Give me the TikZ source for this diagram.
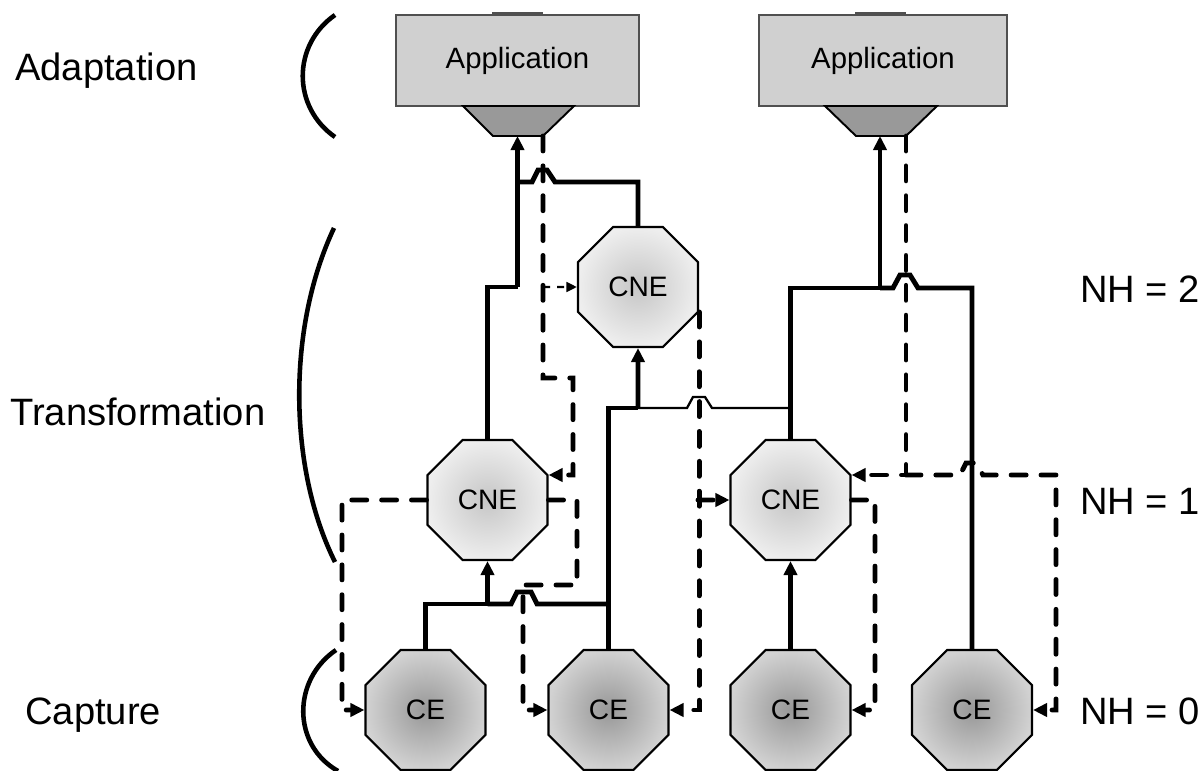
\documentclass[tikz,border=0pt]{standalone}
\usepackage{fontspec}
\setmainfont{Liberation Sans}
\usetikzlibrary{shapes.geometric,arrows.meta,calc}
\definecolor{appfill}{HTML}{D0D0D0}
\definecolor{appline}{HTML}{505050}
\definecolor{trapfill}{HTML}{999999}
\definecolor{ceinner}{HTML}{979797}
\definecolor{ceouter}{HTML}{D2D2D2}
\definecolor{cneinner}{HTML}{C6C6C6}
\definecolor{cneouter}{HTML}{EEEEEE}
\begin{document}
\begin{tikzpicture}[x=0.02cm,y=-0.02cm,
  tip/.tip={Triangle[length=8pt,width=7.5pt]},
  stip/.tip={Triangle[length=6pt,width=5.5pt]},
  conn/.style={line width=2.8pt},
  thinconn/.style={line width=1.3pt},
  dconn/.style={line width=2.8pt,line cap=round,dash pattern=on 8.5pt off 8.5pt},
  tdconn/.style={line width=1.4pt,dash pattern=on 4pt off 4pt},
  oct/.style={regular polygon,regular polygon sides=8,minimum size=2.598cm,
    inner sep=0pt,draw,line width=1.2pt,font=\fontsize{16}{19}\selectfont},
  cestyle/.style={oct,inner color=ceinner,outer color=ceouter},
  cnestyle/.style={oct,inner color=cneinner,outer color=cneouter},
  appstyle/.style={rectangle,draw=appline,line width=0.7pt,fill=appfill,
    minimum height=1.82cm,inner sep=0pt,font=\fontsize{16.7}{20}\selectfont},
  lbl/.style={inner sep=0pt,font=\fontsize{21.7}{26}\selectfont},
  bracket/.style={line width=2.6pt},
  trap/.style={fill=trapfill,draw=black,line width=1.1pt}
]
\useasboundingbox (0,0) rectangle (1198,771);

% --- application boxes with their tabs and trapezoids
\draw[appline,line width=1pt] (492,13) -- (543,13);
\draw[appline,line width=1pt] (855,13) -- (906,13);
\node[appstyle,minimum width=4.86cm] (app1) at (517.5,60.5) {Application};
\node[appstyle,minimum width=4.96cm] (app2) at (883,60.5) {Application};
\draw[trap] (463,106) -- (574,106) -- (543,136) -- (493,136) -- cycle;
\draw[trap] (825,106) -- (937,106) -- (906,136) -- (856,136) -- cycle;
\coordinate (t1in) at (517.5,136);
\coordinate (t1out) at (543,136);
\coordinate (t2in) at (880,136);
\coordinate (t2out) at (906,136);

% --- entities
\node[cnestyle] (cnet) at (638,287) {CNE};
\node[cnestyle] (cnel) at (487.5,500) {CNE};
\node[cnestyle] (cner) at (790.5,500) {CNE};
\node[cestyle] (ce1) at (425.5,710) {CE};
\node[cestyle] (ce2) at (608.5,710) {CE};
\node[cestyle] (ce3) at (790.5,710) {CE};
\node[cestyle] (ce4) at (972,710) {CE};

% --- junction coordinates
\coordinate (j1) at (487.5,604);
\coordinate (j2) at (638,408);
\coordinate (j3) at (790.5,408);
\coordinate (j5) at (880,288);
\coordinate (j6) at (517.5,287);
\coordinate (j7) at (517.5,182);
\coordinate (d1) at (543,287);
\coordinate (d2) at (698,500);
\coordinate (d3) at (906,475);

% --- solid (upward) connectors
\draw[conn] (ce1.north) |- (j1);
\draw[conn,-tip] (j1) -- (cnel.south);
\draw[conn] (j1) -- (511,604) -- (517,592) -- (531,592) -- (537,604) -- (ce2.north |- j1);
\draw[conn] (ce2.north) |- (j2);
\draw[conn,-tip] (j2) -- (cnet.south);
\draw[thinconn] (j2) -- (687,408) -- (693,397) -- (705,397) -- (712,408) -- (j3);
\draw[conn,-tip] (ce3.north) -- (cner.south);
\draw[conn] (cner.north) |- (j5);
\draw[conn,-tip] (j5) -- (t2in);
\draw[conn] (ce4.north) |- (918,288) -- (910,275) -- (900,275) -- (893,288) -- (j5);
\draw[conn] (cnel.north) |- (j6);
\draw[conn,-tip] (j6) -- (t1in);
\draw[conn] (cnet.north) |- (555,182) -- (547,170) -- (538,170) -- (532,182) -- (j7);

% --- dashed (downward) connectors
\draw[dconn,-tip] (t1out) -- (543,378) -- (573,378) -- (573,475) -- ($(cnel.east)+(0,-25)$);
\draw[tdconn,-stip] (d1) -- (cnet.west);
\draw[dconn,-tip] (cnel.west) -- (342,500) |- (ce1.west);
\draw[dconn,-tip] (cnel.east) -- (577,500) -- (577,585) -- (523,585) |- (ce2.west);
\draw[dconn,-tip] ($(cnet.east)+(0,25)$) |- (ce2.east);
\draw[dconn,-tip] (d2) -- (cner.west);
\draw[dconn,-tip] (cner.east) -- (875,500) |- (ce3.east);
\draw[dconn,-tip] (t2out) |- ($(cner.east)+(0,-25)$);
\draw[dconn,-tip] (d3) -- (960,475) -- (966,463) -- (976,463) -- (983,475) -- (1056,475) |- (ce4.east);

% --- brackets
\draw[bracket] (335,15) .. controls (292,45) and (292,107) .. (335,137);
\draw[bracket] (334,228) .. controls (286,330) and (289,470) .. (335,562);
\draw[bracket] (336,650) .. controls (292,680) and (292,745) .. (338,771);

% --- labels
\node[lbl,anchor=base west] (ladapt) at (15,80) {Adaptation};
\node[lbl,anchor=base west] (ltrans) at (10,425) {Transformation};
\node[lbl,anchor=base west] (lcapt) at (25,724) {Capture};
\node[lbl,anchor=base west] (nh2) at (1080,302) {NH = 2};
\node[lbl,anchor=base west] (nh1) at (1080,514) {NH = 1};
\node[lbl,anchor=base west] (nh0) at (1080,724) {NH = 0};
\end{tikzpicture}
\end{document}
